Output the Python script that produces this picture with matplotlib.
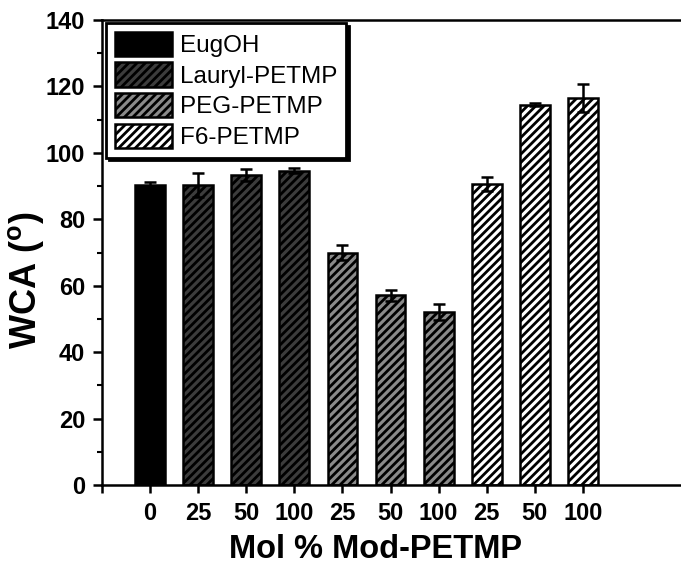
import numpy as np
import matplotlib
matplotlib.use('Agg')
import matplotlib.pyplot as plt

plt.rcParams['font.family'] = ['Liberation Sans', 'DejaVu Sans']
plt.rcParams['mathtext.fontset'] = 'custom'
plt.rcParams['mathtext.rm'] = 'Liberation Sans:bold'
plt.rcParams['mathtext.bf'] = 'Liberation Sans:bold'
plt.rcParams['hatch.linewidth'] = 2.0

# data
tick_labels = ['0', '25', '50', '100', '25', '50', '100', '25', '50', '100']
groups = ['EugOH', 'Lauryl-PETMP', 'PEG-PETMP', 'F6-PETMP']
group_of_bar = [0, 1, 1, 1, 2, 2, 2, 3, 3, 3]
wca = [90.4, 90.4, 93.3, 94.6, 70.0, 57.1, 52.1, 90.7, 114.5, 116.4]
wca_err = [0.7, 3.6, 1.9, 0.8, 2.3, 1.6, 2.4, 2.1, 0.4, 4.2]

face = ['black', '#3c3c3c', '#8a8a8a', 'white']
hatch = [None, '////', '////', '////']

fig = plt.figure(figsize=(6.81, 5.67), dpi=100)
ax = fig.add_axes([0.1498, 0.1446, 0.8502, 0.8201])

x = np.arange(len(wca))
handles = {}
for i in range(len(wca)):
    g = group_of_bar[i]
    b = ax.bar(x[i], wca[i], width=0.62, color=face[g], edgecolor='black',
               linewidth=1.8, hatch=hatch[g], label=groups[g], zorder=2)
    handles[g] = b
ax.errorbar(x, wca, yerr=wca_err, fmt='none', ecolor='black', elinewidth=1.8,
            capsize=4.5, capthick=1.8, zorder=3)

ax.set_xlim(-1, 11.04)
ax.set_ylim(0, 140)
ax.set_xticks(np.arange(-1, len(wca)))
ax.set_xticklabels([''] + tick_labels)
ax.set_yticks(np.arange(0, 141, 20))
ax.set_yticks(np.arange(10, 140, 20), minor=True)

for s in ['left', 'bottom', 'top']:
    ax.spines[s].set_linewidth(1.8)
ax.spines['right'].set_visible(False)
ax.tick_params(axis='both', which='major', direction='out', width=1.8,
               labelsize=17)
ax.tick_params(axis='x', which='major', length=6, pad=6)
ax.tick_params(axis='y', which='major', length=6.5, pad=5.5)
ax.tick_params(axis='y', which='minor', direction='out', length=3.5, width=1.5)
for lab in ax.get_xticklabels() + ax.get_yticklabels():
    lab.set_fontweight('bold')

ax.set_xlabel('Mol % Mod-PETMP', fontsize=23.5, fontweight='bold')
ax.xaxis.set_label_coords(0.4715, -0.106)
ax.set_ylabel(r'WCA ($^{\mathregular{o}}$)', fontsize=26, fontweight='bold')
ax.yaxis.set_label_coords(-0.097, 0.44)

leg = ax.legend([handles[g] for g in range(4)], groups, loc='upper left',
                bbox_to_anchor=(0.007, 0.993), borderaxespad=0, fontsize=17.5,
                fancybox=False, shadow={'color': 'black', 'alpha': 1},
                framealpha=1, edgecolor='black', handlelength=2.35,
                handleheight=1.15, labelspacing=0.22, borderpad=0.35,
                handletextpad=0.35)
leg.get_frame().set_linewidth(2)

plt.savefig('out.png', dpi=100)
